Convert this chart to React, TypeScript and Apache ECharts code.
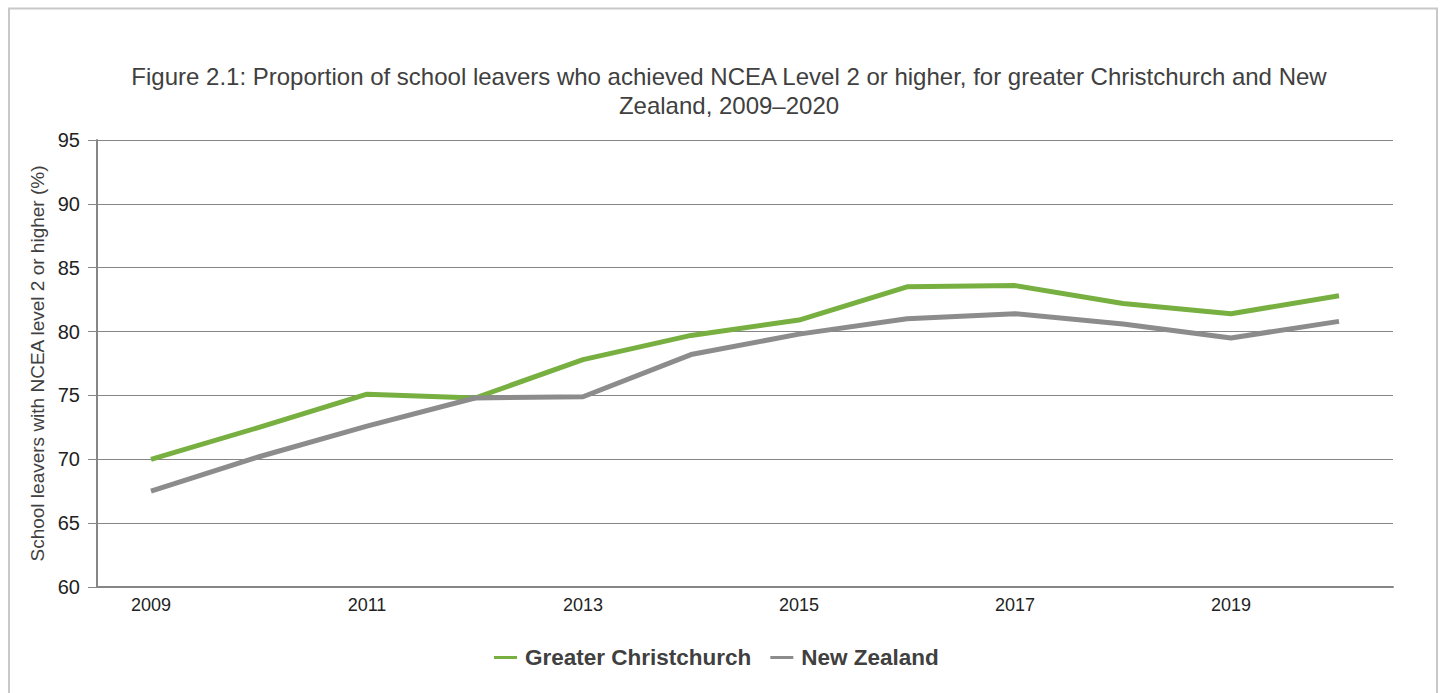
import React, { useEffect, useRef } from "react";
import * as echarts from "echarts";

const years = ["2009", "2010", "2011", "2012", "2013", "2014", "2015", "2016", "2017", "2018", "2019", "2020"];
const greaterChristchurch = [70.0, 72.5, 75.1, 74.8, 77.8, 79.7, 80.9, 83.5, 83.6, 82.2, 81.4, 82.8];
const newZealand = [67.5, 70.2, 72.6, 74.8, 74.9, 78.2, 79.8, 81.0, 81.4, 80.6, 79.5, 80.8];
const yMin = 60;
const yMax = 95;
const yStep = 5;

const titleText =
  "Figure 2.1: Proportion of school leavers who achieved NCEA Level 2 or higher, for greater Christchurch and New\nZealand, 2009–2020";
const yAxisName = "School leavers with NCEA level 2 or higher (%)";

export default function App() {
  const ref = useRef<HTMLDivElement>(null);
  useEffect(() => {
    if (!ref.current) return;
    const chart = echarts.init(ref.current, undefined, { renderer: "svg" });
    const font = "Liberation Sans, Arial, sans-serif";
    chart.setOption({
      animation: false,
      backgroundColor: "#ffffff",
      textStyle: { fontFamily: font },
      graphic: [
        {
          type: "rect",
          shape: { x: 9, y: 8.5, width: 1428, height: 700 },
          style: { fill: "none", stroke: "#c8c8c8", lineWidth: 2 },
          silent: true,
        },
      ],
      title: {
        text: titleText,
        left: 724,
        textAlign: "center",
        top: 57,
        textStyle: {
          fontFamily: font,
          fontSize: 24,
          fontWeight: "normal",
          color: "#404040",
          lineHeight: 29,
        },
      },
      legend: {
        top: 641,
        left: 489,
        itemWidth: 23,
        itemHeight: 3,
        itemGap: 19,
        icon: "rect",
        textStyle: {
          fontFamily: font,
          fontSize: 22.5,
          fontWeight: "bold",
          color: "#404040",
          padding: [0, 0, 0, 3],
        },
        data: ["Greater Christchurch", "New Zealand"],
      },
      grid: { left: 97, right: 49, top: 140, bottom: 106 },
      xAxis: {
        type: "category",
        data: years,
        boundaryGap: true,
        axisLine: { lineStyle: { color: "#868686", width: 2 } },
        axisTick: { alignWithLabel: true, interval: 1, length: 5, lineStyle: { color: "#868686", width: 1 } },
        axisLabel: { interval: 1, fontSize: 18, color: "#222222", margin: 9, fontFamily: font },
      },
      yAxis: {
        type: "value",
        min: yMin,
        max: yMax,
        interval: yStep,
        name: yAxisName,
        nameLocation: "middle",
        nameGap: 42,
        nameTextStyle: { fontSize: 19, color: "#404040", fontFamily: font },
        axisLine: { show: true, lineStyle: { color: "#868686", width: 2 } },
        axisTick: { show: true, length: 9, lineStyle: { color: "#868686", width: 1 } },
        axisLabel: { fontSize: 20, color: "#222222", margin: 17, fontFamily: font },
        splitLine: { show: true, lineStyle: { color: "#868686", width: 1 } },
      },
      series: [
        {
          name: "Greater Christchurch",
          type: "line",
          data: greaterChristchurch,
          showSymbol: false,
          symbol: "none",
          color: "#77b041",
          lineStyle: { width: 5, color: "#77b041" },
        },
        {
          name: "New Zealand",
          type: "line",
          data: newZealand,
          showSymbol: false,
          symbol: "none",
          color: "#8c8c8c",
          lineStyle: { width: 5, color: "#8c8c8c" },
        },
      ],
    });
    return () => chart.dispose();
  }, []);
  return (
    <div
      ref={ref}
      style={{ position: "fixed", left: 0, top: 0, width: 1442, height: 693 }}
    />
  );
}
